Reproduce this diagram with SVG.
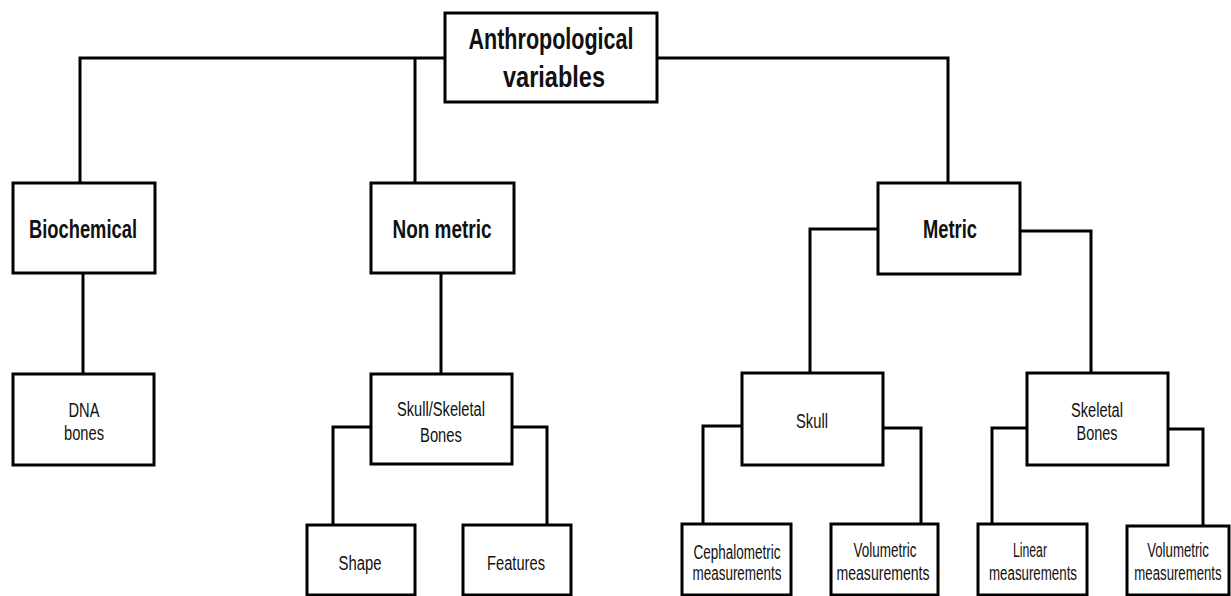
<svg xmlns="http://www.w3.org/2000/svg" width="1231" height="596" viewBox="0 0 1231 596">
<style>
.box{fill:#fff;stroke:#000;stroke-width:3}
.edge{fill:none;stroke:#000;stroke-width:3}
.t{font-family:"Liberation Sans",Arial,sans-serif;text-anchor:middle;fill:#111}
.b{font-weight:bold}
.l1{font-size:30px}
.l2{font-size:26px}
.l3{font-size:20px}
</style>
<rect width="1231" height="596" fill="#fff"/>
<g id="connectors">
<path class="edge" d="M445,58 H80 V183"/>
<path class="edge" d="M415,58 V183"/>
<path class="edge" d="M657,58 H948 V183"/>
<path class="edge" d="M83,273 V374"/>
<path class="edge" d="M441,273 V374"/>
<path class="edge" d="M878,229 H810 V373"/>
<path class="edge" d="M1020,231 H1091 V373"/>
<path class="edge" d="M371,427 H333 V525"/>
<path class="edge" d="M512,427 H547 V525"/>
<path class="edge" d="M742,426 H703 V524"/>
<path class="edge" d="M883,428 H921 V524"/>
<path class="edge" d="M1027,428 H992 V524"/>
<path class="edge" d="M1168,429 H1203 V526"/>
</g>
<g id="root">
<rect class="box" x="445" y="13" width="212" height="89"/>
<text class="t b l1" x="551" y="49" textLength="165" lengthAdjust="spacingAndGlyphs">Anthropological</text>
<text class="t b l1" x="554" y="87" textLength="102" lengthAdjust="spacingAndGlyphs">variables</text>
</g>
<g id="biochemical">
<rect class="box" x="13" y="183" width="142" height="90"/>
<text class="t b l2" x="83" y="238" textLength="108" lengthAdjust="spacingAndGlyphs">Biochemical</text>
</g>
<g id="nonmetric">
<rect class="box" x="371" y="183" width="143" height="90"/>
<text class="t b l2" x="442" y="238" textLength="99" lengthAdjust="spacingAndGlyphs">Non metric</text>
</g>
<g id="metric">
<rect class="box" x="878" y="183" width="142" height="91"/>
<text class="t b l2" x="950" y="238" textLength="54" lengthAdjust="spacingAndGlyphs">Metric</text>
</g>
<g id="dna">
<rect class="box" x="13" y="374" width="141" height="91"/>
<text class="t l3" x="84" y="417" textLength="31" lengthAdjust="spacingAndGlyphs">DNA</text>
<text class="t l3" x="84" y="440" textLength="40" lengthAdjust="spacingAndGlyphs">bones</text>
</g>
<g id="skullskeletal">
<rect class="box" x="371" y="374" width="141" height="90"/>
<text class="t l3" x="441" y="416" textLength="88" lengthAdjust="spacingAndGlyphs">Skull/Skeletal</text>
<text class="t l3" x="441" y="442" textLength="42" lengthAdjust="spacingAndGlyphs">Bones</text>
</g>
<g id="skull">
<rect class="box" x="742" y="373" width="141" height="92"/>
<text class="t l3" x="812" y="428" textLength="32" lengthAdjust="spacingAndGlyphs">Skull</text>
</g>
<g id="skeletalbones">
<rect class="box" x="1027" y="373" width="141" height="92"/>
<text class="t l3" x="1097" y="417" textLength="52" lengthAdjust="spacingAndGlyphs">Skeletal</text>
<text class="t l3" x="1097" y="440" textLength="41" lengthAdjust="spacingAndGlyphs">Bones</text>
</g>
<g id="shape">
<rect class="box" x="307" y="525" width="108" height="70"/>
<text class="t l3" x="360" y="570" textLength="43" lengthAdjust="spacingAndGlyphs">Shape</text>
</g>
<g id="features">
<rect class="box" x="463" y="525" width="108" height="70"/>
<text class="t l3" x="516" y="570" textLength="58" lengthAdjust="spacingAndGlyphs">Features</text>
</g>
<g id="cephalometric">
<rect class="box" x="682" y="524" width="109" height="71"/>
<text class="t l3" x="737" y="559" textLength="87" lengthAdjust="spacingAndGlyphs">Cephalometric</text>
<text class="t l3" x="737" y="580" textLength="89" lengthAdjust="spacingAndGlyphs">measurements</text>
</g>
<g id="volumetric1">
<rect class="box" x="831" y="524" width="107" height="71"/>
<text class="t l3" x="885" y="557" textLength="63" lengthAdjust="spacingAndGlyphs">Volumetric</text>
<text class="t l3" x="883" y="580" textLength="93" lengthAdjust="spacingAndGlyphs">measurements</text>
</g>
<g id="linear">
<rect class="box" x="978" y="524" width="109" height="71"/>
<text class="t l3" x="1030" y="557" textLength="34" lengthAdjust="spacingAndGlyphs">Linear</text>
<text class="t l3" x="1033" y="580" textLength="88" lengthAdjust="spacingAndGlyphs">measurements</text>
</g>
<g id="volumetric2">
<rect class="box" x="1127" y="526" width="102" height="69"/>
<text class="t l3" transform="translate(1178,557) scale(0.66,1)">Volumetric</text>
<text class="t l3" transform="translate(1178,580) scale(0.66,1)">measurements</text>
</g>
</svg>
